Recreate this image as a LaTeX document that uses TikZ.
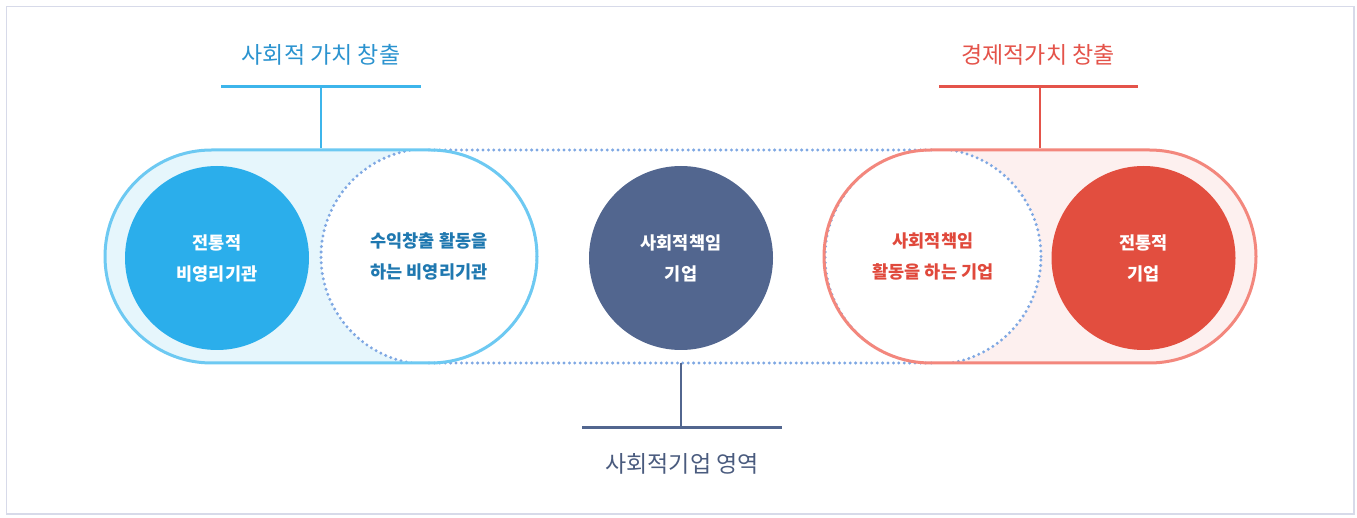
\documentclass[tikz,border=0pt]{standalone}
\usepackage{fontspec}
\setmainfont{Noto Sans CJK KR}
\usetikzlibrary{shapes.misc}
\definecolor{pillblue}{HTML}{6DC9F2}
\definecolor{fillblue}{HTML}{E6F6FC}
\definecolor{circblue}{HTML}{2BAEEB}
\definecolor{dotcol}{HTML}{7FA8E3}
\definecolor{navy}{HTML}{52668F}
\definecolor{pillred}{HTML}{F3877D}
\definecolor{fillpink}{HTML}{FDF0EF}
\definecolor{circred}{HTML}{E24E3F}
\definecolor{titleblue}{HTML}{2B93CF}
\definecolor{barblue}{HTML}{3DB5EB}
\definecolor{titlered}{HTML}{E4534A}
\definecolor{innerblue}{HTML}{1F78B0}
\definecolor{innerred}{HTML}{E0493C}
\definecolor{bottomtext}{HTML}{4A5B7E}
\definecolor{framecol}{HTML}{D7DAE9}
\tikzset{
  pill/.style={rounded rectangle, minimum width=432pt, minimum height=213pt, inner sep=0pt, line width=3pt},
  dotline/.style={draw=dotcol, line width=3.3pt, line cap=round, dash pattern=on 0pt off 5.4pt},
  bigcirc/.style={circle, minimum size=184pt, inner sep=0pt, text=white, font=\fontsize{17.5}{31}\selectfont\bfseries, align=center},
  whitecirc/.style={circle, minimum size=216pt, inner sep=0pt, fill=white, font=\fontsize{17.5}{31}\selectfont\bfseries, align=center},
  titletext/.style={font=\fontsize{23}{26}\selectfont, inner sep=0pt},
  bar/.style={line width=3pt},
  stem/.style={line width=1.2pt}
}
\begin{document}
\begin{tikzpicture}[x=1pt,y=-1pt]
\useasboundingbox (0,0) rectangle (1357,518);
\draw[framecol, line width=1.2pt] (6.5,6.5) rectangle (1354,514);
% left pill
\node[pill, fill=fillblue] (lpill) at (321,256.5) {};
\begin{scope}
  \clip (105,150) [rounded corners=106.5pt] rectangle (537,363);
  \node[whitecirc, text=innerblue] (lwhite) at (429,256.5) {수익창출 활동을\\하는 비영리기관};
  \draw[dotline] (lwhite.center) circle (108pt);
\end{scope}
% right pill
\node[pill, fill=fillpink] (rpill) at (1040,256.5) {};
\begin{scope}
  \clip (825,150) [rounded corners=106.5pt] rectangle (1255,363);
  \node[whitecirc, text=innerred] (rwhite) at (933,256.5) {사회적책임\\활동을 하는 기업};
  \draw[dotline] (rwhite.center) circle (108pt);
\end{scope}
% dotted connecting lines
\coordinate (ltop) at (429,150);
\coordinate (lbot) at (429,363);
\coordinate (rtop) at (933,150);
\coordinate (rbot) at (933,363);
\draw[dotline] (ltop) -- (rtop);
\draw[dotline] (lbot) -- (rbot);
% pill borders on top
\node[pill, draw=pillblue] (lpillb) at (321,256.5) {};
\node[pill, draw=pillred] (rpillb) at (1040,256.5) {};
% filled circles
\node[bigcirc, fill=circblue] (lcirc) at (217,258) {전통적\\비영리기관};
\node[bigcirc, fill=navy] (mcirc) at (681,258) {사회적책임\\기업};
\node[bigcirc, fill=circred] (rcirc) at (1143.5,258) {전통적\\기업};
% top left title
\node[titletext, text=titleblue] (ltitle) at (321,55) {사회적 가치 창출};
\coordinate (lbarL) at (221,87);
\coordinate (lbarR) at (421,87);
\coordinate (lbarM) at (321,87);
\draw[bar, barblue] (lbarL) -- (lbarR);
\draw[stem, barblue] (lbarM) -- (lpillb.north);
% top right title
\node[titletext, text=titlered] (rtitle) at (1038,55) {경제적가치 창출};
\coordinate (rbarL) at (939,87);
\coordinate (rbarR) at (1138,87);
\coordinate (rbarM) at (1040,87);
\draw[bar, titlered] (rbarL) -- (rbarR);
\draw[stem, titlered] (rbarM) -- (rpillb.north);
% bottom
\coordinate (bstemtop) at (681,363);
\coordinate (bbarL) at (582,427);
\coordinate (bbarR) at (782,427);
\coordinate (bbarM) at (681,427);
\draw[stem, navy] (bstemtop) -- (bbarM);
\draw[bar, navy] (bbarL) -- (bbarR);
\node[titletext, text=bottomtext] (btitle) at (682,464) {사회적기업 영역};
\end{tikzpicture}
\end{document}
